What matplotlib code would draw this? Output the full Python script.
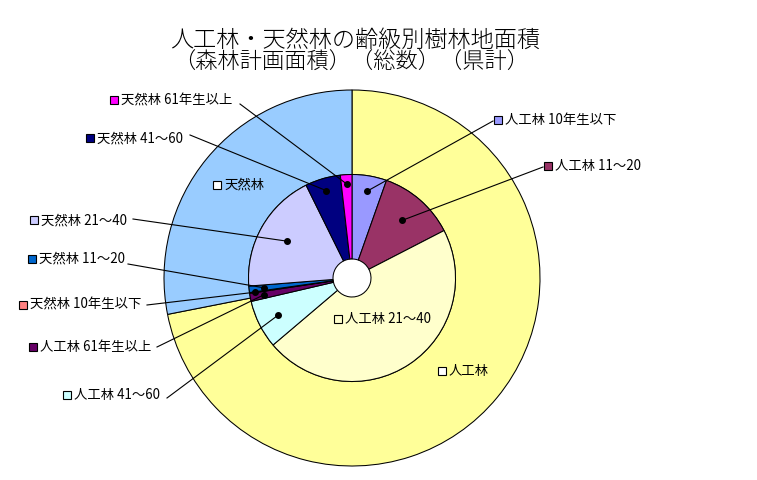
"""Two-ring doughnut: planted / natural forest area by age class (reproduction)."""
import matplotlib

matplotlib.use("Agg")
import matplotlib.pyplot as plt  # noqa: E402
import numpy as np  # noqa: E402

plt.rcParams["font.family"] = ["Noto Sans CJK JP", "DejaVu Sans"]

# outer ring: totals (share of area, %)
outer_labels = ["人工林", "天然林"]
outer_values = [71.9, 28.1]
outer_colors = ["#FFFF99", "#99CCFF"]

# inner ring: age classes (share of area, %)
inner_labels = [
    "人工林 10年生以下", "人工林 11～20", "人工林 21～40", "人工林 41～60", "人工林 61年生以上",
    "天然林 10年生以下", "天然林 11～20", "天然林 21～40", "天然林 41～60", "天然林 61年生以上",
]
inner_values = [5.4, 12.0, 46.3, 7.55, 1.25, 0.14, 1.0, 18.9, 5.5, 1.8]
inner_colors = [
    "#9999FF", "#993366", "#FFFFCC", "#CCFFFF", "#660066",
    "#FF8080", "#0066CC", "#CCCCFF", "#000080", "#FF00FF",
]

W, H = 757, 480
CX, CY = 352, 278          # centre in pixel coords (y down)
R_OUT, RING = 188, 84.5


def P(x, y):
    return x, H - y


fig = plt.figure(figsize=(W / 100, H / 100), dpi=100)
ax = fig.add_axes([0, 0, 1, 1])

wp = dict(width=RING, edgecolor="black", linewidth=0.75)
ax.pie(outer_values, colors=outer_colors, radius=R_OUT, center=P(CX, CY),
       startangle=90, counterclock=False, wedgeprops=wp)
inner_wedges, _ = ax.pie(inner_values, colors=inner_colors, radius=R_OUT - RING,
                         center=P(CX, CY), startangle=90, counterclock=False,
                         wedgeprops=wp)
ax.set_xlim(0, W)
ax.set_ylim(0, H)
ax.set_aspect("equal")
ax.axis("off")

# title
ax.text(*P(355, 40), "人工林・天然林の齢級別樹林地面積", ha="center", va="center",
        fontsize=16.7, fontweight="light")
ax.text(*P(351, 63), "（森林計画面積）（総数）（県計）", ha="center", va="center",
        fontsize=16, fontweight="light")

# inner labels: key centre, line start, dot radius fraction
inner_layout = {
    "人工林 10年生以下": ((498, 120), (493, 121), 0.85),
    "人工林 11～20": ((548, 166), (543, 167), 0.74),
    "人工林 21～40": ((338, 319), None, None),
    "人工林 41～60": ((67, 395), (167, 398), 0.80),
    "人工林 61年生以上": ((33, 347), (157, 347), 0.87),
    "天然林 10年生以下": ((23, 305), (147, 305), 0.95),
    "天然林 11～20": ((32, 259), (128, 264), 0.86),
    "天然林 21～40": ((34, 220), (133, 219), 0.72),
    "天然林 41～60": ((90, 138), (190, 135), 0.88),
    "天然林 61年生以上": ((114, 100), (240, 104), 0.91),
}
outer_layout = {"人工林": (442, 371), "天然林": (217, 185)}

r_in = R_OUT - RING
for w, lab, col in zip(inner_wedges, inner_labels, inner_colors):
    (kx, ky), start, rf = inner_layout[lab]
    ax.plot(*P(kx, ky), marker="s", ms=5.5, mfc=col, mec="black", mew=0.8)
    ax.text(*P(kx + 7, ky), lab, ha="left", va="center", fontsize=9.6)
    if start is None:
        continue
    mid = np.deg2rad((w.theta1 + w.theta2) / 2)
    dx, dy = CX + rf * r_in * np.cos(mid), H - CY + rf * r_in * np.sin(mid)
    sx, sy = P(*start)
    ax.plot([sx, dx], [sy, dy], color="black", lw=0.8)
    ax.plot(dx, dy, marker="o", ms=4, color="black")

for lab in outer_labels:
    kx, ky = outer_layout[lab]
    ax.plot(*P(kx, ky), marker="s", ms=5.5, mfc="white", mec="black", mew=0.8)
    ax.text(*P(kx + 7, ky), lab, ha="left", va="center", fontsize=9.6)

fig.savefig("out.png", dpi=100, facecolor="white")
